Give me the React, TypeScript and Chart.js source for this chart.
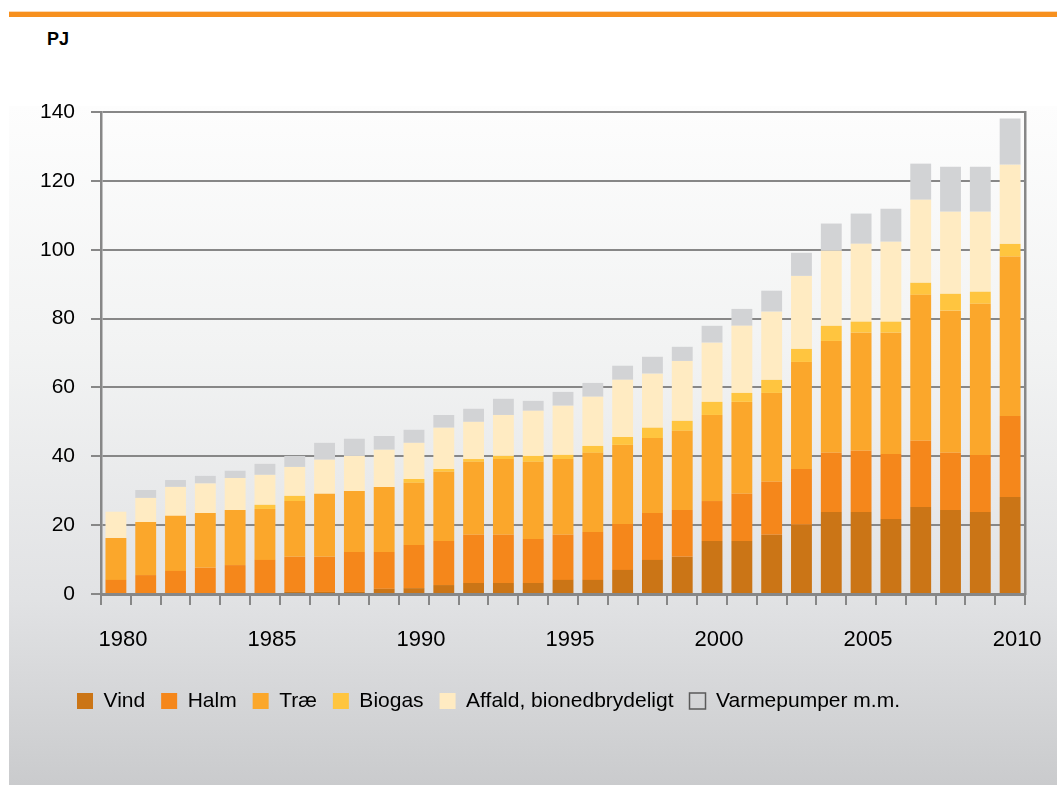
import React, { useEffect, useRef } from "react";
import { Chart, registerables } from "chart.js";

Chart.register(...registerables);

const FONT = "'Liberation Sans', Arial, Helvetica, sans-serif";

const years = [
  "1980", "1981", "1982", "1983", "1984", "1985", "1986", "1987", "1988", "1989",
  "1990", "1991", "1992", "1993", "1994", "1995", "1996", "1997", "1998", "1999",
  "2000", "2001", "2002", "2003", "2004", "2005", "2006", "2007", "2008", "2009", "2010",
];

const vind = [
  0, 0, 0, 0, 0, 0, 0.6, 0.6, 0.6, 1.5,
  1.7, 2.6, 3.2, 3.2, 3.2, 4.1, 4.1, 7.0, 9.9, 10.8,
  15.4, 15.4, 17.2, 20.1, 23.8, 23.8, 21.8, 25.3, 24.4, 23.8, 28.2,
];

const halm = [
  4.1, 5.5, 6.7, 7.6, 8.4, 9.9, 10.2, 10.2, 11.6, 10.7,
  12.5, 12.8, 14.0, 14.0, 12.8, 13.1, 13.9, 13.3, 13.6, 13.6,
  11.6, 13.7, 15.4, 16.2, 17.2, 17.8, 18.9, 19.2, 16.6, 16.6, 23.5,
];

const trae = [
  12.2, 15.4, 16.0, 15.9, 16.0, 14.8, 16.2, 18.3, 17.7, 18.9,
  18.1, 20.1, 21.2, 22.0, 22.4, 22.0, 23.0, 23.0, 21.8, 23.0,
  25.0, 26.7, 25.8, 31.1, 32.5, 34.3, 35.2, 42.4, 41.3, 43.9, 46.3,
];

const biogas = [
  0, 0, 0, 0, 0, 1.2, 1.5, 0, 0, 0,
  1.1, 0.8, 0.8, 0.9, 1.7, 1.2, 2.0, 2.3, 3.0, 2.9,
  3.8, 2.6, 3.8, 3.8, 4.4, 3.2, 3.2, 3.5, 4.9, 3.5, 3.7,
];

const affald = [
  7.6, 7.0, 8.4, 8.6, 9.3, 8.7, 8.4, 9.9, 10.2, 10.8,
  10.5, 12.0, 10.8, 11.9, 13.1, 14.3, 14.3, 16.6, 15.7, 17.4,
  17.2, 19.5, 19.8, 21.2, 21.8, 22.6, 23.2, 24.1, 23.8, 23.2, 23.0,
];

const varmepumper = [
  0, 2.3, 2.0, 2.2, 2.1, 3.2, 3.2, 4.9, 5.0, 4.0,
  3.8, 3.7, 3.8, 4.7, 2.9, 4.0, 4.0, 4.1, 4.9, 4.1,
  4.9, 4.9, 6.1, 6.7, 7.9, 8.8, 9.6, 10.5, 13.1, 13.1, 13.4,
];

const seriesNames = ["Vind", "Halm", "Træ", "Biogas", "Affald, bionedbrydeligt", "Varmepumper m.m."];
const seriesColors = ["#cb7516", "#f5871b", "#fba72b", "#ffc53f", "#ffebc2", "#d2d3d5"];
const seriesData = [vind, halm, trae, biogas, affald, varmepumper];

const yTicks = { min: 0, max: 140, step: 20 };
const AXIS_GREY = "#878787";

const shiftLegend = {
  id: "shiftLegend",
  afterLayout(chart: any) {
    const lg = chart.legend;
    if (lg) {
      lg.left += 31;
      lg.right += 31;
    }
  },
};

export default function App() {
  const canvasRef = useRef<HTMLCanvasElement | null>(null);

  useEffect(() => {
    const canvas = canvasRef.current;
    if (!canvas) return;
    const chart = new Chart(canvas, {
      type: "bar",
      data: {
        labels: years,
        datasets: seriesNames.map((name, i) => ({
          label: name,
          data: seriesData[i],
          backgroundColor: seriesColors[i],
          borderWidth: 0,
          barPercentage: 0.7,
          categoryPercentage: 1,
        })),
      },
      plugins: [shiftLegend],
      options: {
        responsive: false,
        animation: false,
        events: [],
        layout: { padding: { left: 30, right: 25, top: 112, bottom: 63.5 } },
        plugins: {
          tooltip: { enabled: false },
          title: { display: false },
          legend: {
            display: true,
            position: "bottom",
            align: "start",
            labels: {
              font: { family: FONT, size: 21 },
              color: "#000",
              boxWidth: 16,
              boxHeight: 16,
              padding: 16,
              generateLabels: (ch: any) =>
                ch.data.datasets.map((ds: any, i: number) => ({
                  text: ds.label,
                  fillStyle: i === 5 ? "rgba(0,0,0,0)" : ds.backgroundColor,
                  strokeStyle: i === 5 ? "#5a5a5a" : ds.backgroundColor,
                  lineWidth: i === 5 ? 1.5 : 0,
                  hidden: false,
                  datasetIndex: i,
                  fontColor: "#000",
                })),
            },
          },
        },
        scales: {
          x: {
            stacked: true,
            grid: {
              offset: true,
              drawOnChartArea: false,
              drawTicks: true,
              tickLength: 11,
              color: AXIS_GREY,
              lineWidth: 2,
            },
            border: { color: AXIS_GREY, width: 3 },
            ticks: {
              autoSkip: false,
              maxRotation: 0,
              minRotation: 0,
              padding: 22,
              labelOffset: 7,
              color: "#000",
              font: { family: FONT, size: 22 },
              callback: (_v: any, i: number) => (Number(years[i]) % 5 === 0 ? years[i] : ""),
            },
            afterFit: (s: any) => {
              s.height = 80.5;
            },
          },
          y: {
            stacked: true,
            min: yTicks.min,
            max: yTicks.max,
            grid: { color: AXIS_GREY, lineWidth: 2, tickLength: 10, drawTicks: true },
            border: { color: AXIS_GREY, width: 2.5 },
            ticks: {
              stepSize: yTicks.step,
              padding: 16,
              color: "#000",
              font: { family: FONT, size: 21 },
            },
            afterFit: (s: any) => {
              s.width = 71;
            },
          },
          y2: {
            position: "right",
            display: true,
            min: yTicks.min,
            max: yTicks.max,
            grid: { drawOnChartArea: false, drawTicks: false },
            ticks: { display: false },
            border: { color: AXIS_GREY, width: 2.5 },
            afterFit: (s: any) => {
              s.width = 0;
            },
          },
        },
      } as any,
    });
    return () => chart.destroy();
  }, []);

  return (
    <div
      style={{
        position: "absolute",
        left: 0,
        top: 0,
        width: 1057,
        height: 785,
        overflow: "hidden",
        background: "#ffffff",
        fontFamily: FONT,
      }}
    >
      <div style={{ position: "absolute", left: 9, top: 11, width: 1048, height: 1, background: "#fcd9b4" }} />
      <div style={{ position: "absolute", left: 9, top: 12, width: 1048, height: 5, background: "#f7901e" }} />
      <div
        style={{
          position: "absolute",
          left: 9,
          top: 106,
          width: 1048,
          height: 679,
          background:
            "linear-gradient(to bottom, #fdfdfd 0%, #f2f3f3 36%, #e1e2e4 72.7%, #cacbcd 100%)",
        }}
      />
      <div
        style={{
          position: "absolute",
          left: 47,
          top: 28,
          fontSize: 18,
          fontWeight: "bold",
          color: "#000",
          lineHeight: "22px",
        }}
      >
        PJ
      </div>
      <canvas
        ref={canvasRef}
        width={1057}
        height={785}
        style={{ position: "absolute", left: 0, top: 0, width: 1057, height: 785 }}
      />
    </div>
  );
}
